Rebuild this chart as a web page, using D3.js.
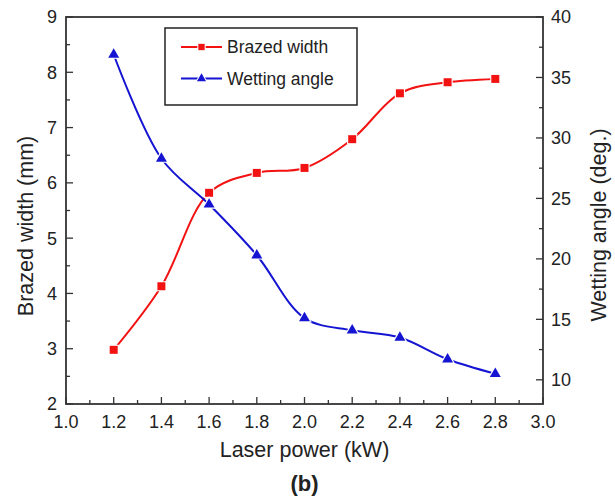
<!DOCTYPE html>
<html><head><meta charset="utf-8">
<script src="https://cdn.jsdelivr.net/npm/d3@7"></script>
<style>body{margin:0;background:#fff}text{font-family:"Liberation Sans",Arial,sans-serif;fill:#222}</style>
</head><body>
<svg id="c" width="615" height="497"></svg>
<script>
const power = [1.2, 1.4, 1.6, 1.8, 2.0, 2.2, 2.4, 2.6, 2.8];
const brazedWidth = [2.98, 4.13, 5.82, 6.18, 6.27, 6.79, 7.62, 7.82, 7.88];
const wettingAngle = [36.9, 28.3, 24.5, 20.3, 15.1, 14.1, 13.5, 11.7, 10.5];
const xTicks = [1.0, 1.2, 1.4, 1.6, 1.8, 2.0, 2.2, 2.4, 2.6, 2.8, 3.0];
const yLeftTicks = [2, 3, 4, 5, 6, 7, 8, 9];
const yRightTicks = [10, 15, 20, 25, 30, 35, 40];
const seriesNames = ["Brazed width", "Wetting angle"];

const svg = d3.select("#c");
const L = 66, R = 543, T = 17, B = 404;
const x = d3.scaleLinear().domain([1.0, 3.0]).range([L, R]);
const yL = d3.scaleLinear().domain([2, 9]).range([B, T]);
const yR = d3.scaleLinear().domain([8, 40]).range([B, T]);
const red = "#f31212", blue = "#1414d2", axisCol = "#333";

// frame
svg.append("rect").attr("x", L).attr("y", T).attr("width", R - L).attr("height", B - T)
  .attr("fill", "none").attr("stroke", axisCol).attr("stroke-width", 1.8);

const tickG = svg.append("g").attr("stroke", axisCol).attr("stroke-width", 1.3);
const minorX = d3.range(1.1, 3.0, 0.2);
xTicks.forEach(v => tickG.append("line").attr("x1", x(v)).attr("x2", x(v)).attr("y1", B).attr("y2", B - 7));
minorX.forEach(v => tickG.append("line").attr("x1", x(v)).attr("x2", x(v)).attr("y1", B).attr("y2", B - 4));
yLeftTicks.forEach(v => tickG.append("line").attr("x1", L).attr("x2", L + 7).attr("y1", yL(v)).attr("y2", yL(v)));
d3.range(2.5, 9, 1).forEach(v => tickG.append("line").attr("x1", L).attr("x2", L + 4).attr("y1", yL(v)).attr("y2", yL(v)));
yRightTicks.forEach(v => tickG.append("line").attr("x1", R).attr("x2", R - 7).attr("y1", yR(v)).attr("y2", yR(v)));
d3.range(12.5, 40, 5).forEach(v => tickG.append("line").attr("x1", R).attr("x2", R - 4).attr("y1", yR(v)).attr("y2", yR(v)));

// tick labels
const fmt1 = d3.format(".1f");
xTicks.forEach(v => svg.append("text").attr("x", x(v)).attr("y", 428).attr("text-anchor", "middle")
  .attr("font-size", 18).text(fmt1(v)));
yLeftTicks.forEach(v => svg.append("text").attr("x", 57).attr("y", yL(v)).attr("dy", "0.36em")
  .attr("text-anchor", "end").attr("font-size", 18).text(v));
yRightTicks.forEach(v => svg.append("text").attr("x", 551).attr("y", yR(v)).attr("dy", "0.36em")
  .attr("text-anchor", "start").attr("font-size", 18).text(v));

// titles
svg.append("text").attr("x", (L + R) / 2).attr("y", 457).attr("text-anchor", "middle")
  .attr("font-size", 21.5).text("Laser power (kW)");
svg.append("text").attr("x", (L + R) / 2).attr("y", 491).attr("text-anchor", "middle")
  .attr("font-size", 22).attr("font-weight", "bold").text("(b)");
svg.append("text").attr("transform", "translate(33,226) rotate(-90)").attr("text-anchor", "middle")
  .attr("font-size", 21.5).text("Brazed width (mm)");
svg.append("text").attr("transform", "translate(606,225) rotate(-90)").attr("text-anchor", "middle")
  .attr("font-size", 21.5).text("Wetting angle (deg.)");

// lines
const curve = d3.curveCatmullRom.alpha(0.5);
const lineL = d3.line().x((d, i) => x(power[i])).y(d => yL(d)).curve(curve);
const lineR = d3.line().x((d, i) => x(power[i])).y(d => yR(d)).curve(curve);
svg.append("path").attr("d", lineL(brazedWidth)).attr("fill", "none").attr("stroke", red).attr("stroke-width", 2);
svg.append("path").attr("d", lineR(wettingAngle)).attr("fill", "none").attr("stroke", blue).attr("stroke-width", 2);

const sq = d3.symbol().type(d3.symbolSquare).size(64);
const tri = d3.symbol().type(d3.symbolTriangle).size(52);
function markers(vals, y, sym, col) {
  svg.append("g").selectAll("path").data(vals).join("path")
    .attr("transform", (d, i) => `translate(${x(power[i])},${y(d)})`)
    .attr("d", sym).attr("fill", col).attr("stroke", "#fff").attr("stroke-width", 2.2)
    .attr("paint-order", "stroke");
}
markers(brazedWidth, yL, sq, red);
markers(wettingAngle, yR, tri, blue);

// legend
const lg = svg.append("g");
lg.append("rect").attr("x", 165).attr("y", 28).attr("width", 192).attr("height", 77)
  .attr("fill", "#fff").attr("stroke", "#222").attr("stroke-width", 1.5);
const legRows = [{name: seriesNames[0], col: red, sym: d3.symbol().type(d3.symbolSquare).size(40)},
                 {name: seriesNames[1], col: blue, sym: d3.symbol().type(d3.symbolTriangle).size(36)}];
legRows.forEach((r, i) => {
  const yy = 47 + i * 31.5;
  lg.append("line").attr("x1", 181).attr("x2", 222).attr("y1", yy).attr("y2", yy).attr("stroke", r.col).attr("stroke-width", 2);
  lg.append("path").attr("transform", `translate(201.5,${yy})`).attr("d", r.sym).attr("fill", r.col)
    .attr("stroke", "#fff").attr("stroke-width", 2).attr("paint-order", "stroke");
  lg.append("text").attr("x", 227).attr("y", yy).attr("dy", "0.36em").attr("font-size", 17.5).text(r.name);
});
</script>
</body></html>
